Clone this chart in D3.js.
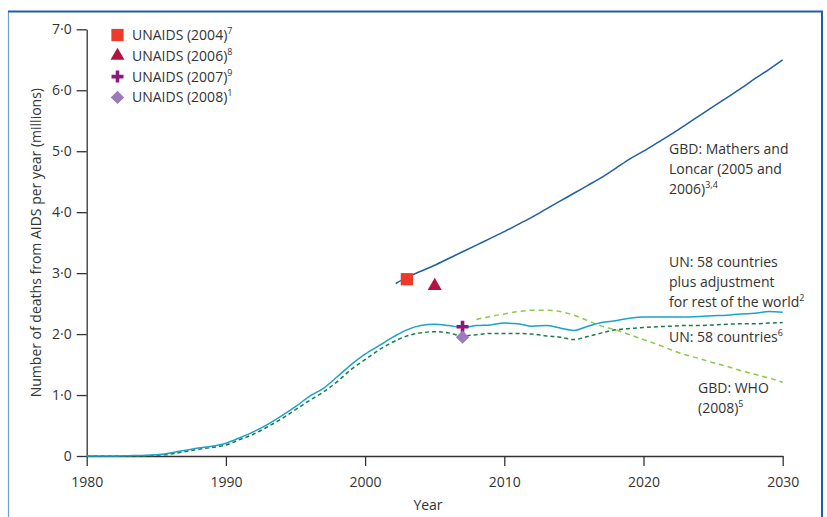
<!DOCTYPE html>
<html>
<head>
<meta charset="utf-8">
<script src="https://cdn.jsdelivr.net/npm/d3@7"></script>
<style>
  html, body { margin: 0; padding: 0; background: #fff; }
  svg { display: block; font-family: "Open Sans", "DejaVu Sans", sans-serif; }
</style>
</head>
<body>
<svg id="chart" width="827" height="517"></svg>
<script>
// Annual AIDS deaths (millions), projections to 2030
const years = d3.range(1980, 2031);

// UN: 58 countries plus adjustment for rest of the world
const unAdjusted = [0.00, 0.00, 0.00, 0.005, 0.01, 0.02, 0.05, 0.09, 0.13, 0.16,
  0.21, 0.30, 0.40, 0.52, 0.66, 0.81, 0.98, 1.11, 1.30, 1.50,
  1.67, 1.81, 1.95, 2.07, 2.14, 2.16, 2.14, 2.11, 2.14, 2.15,
  2.18, 2.17, 2.13, 2.14, 2.10, 2.06, 2.13, 2.19, 2.22, 2.26,
  2.28, 2.28, 2.28, 2.28, 2.29, 2.30, 2.31, 2.33, 2.34, 2.37, 2.36];

// UN: 58 countries
const un58 = [0.00, 0.00, 0.00, 0.00, 0.00, 0.01, 0.03, 0.07, 0.11, 0.14,
  0.18, 0.27, 0.36, 0.48, 0.61, 0.76, 0.91, 1.05, 1.22, 1.42,
  1.58, 1.74, 1.87, 1.97, 2.02, 2.04, 2.02, 1.97, 1.99, 2.01,
  2.01, 2.01, 2.00, 1.97, 1.95, 1.91, 1.96, 2.02, 2.07, 2.09,
  2.11, 2.12, 2.13, 2.14, 2.14, 2.15, 2.16, 2.17, 2.17, 2.18, 2.19];

// GBD: Mathers and Loncar (2005 and 2006)
const mathersYears = [2002.2, 2003, 2004, 2005, 2006, 2007, 2008, 2009, 2010, 2011,
  2012, 2013, 2014, 2015, 2016, 2017, 2018, 2019, 2020, 2021,
  2022, 2023, 2024, 2025, 2026, 2027, 2028, 2029, 2030];
const mathers = [2.83, 2.93, 3.03, 3.13, 3.24, 3.35, 3.46, 3.57, 3.68, 3.80,
  3.92, 4.05, 4.18, 4.31, 4.44, 4.57, 4.72, 4.87, 5.00, 5.14,
  5.28, 5.43, 5.58, 5.73, 5.88, 6.03, 6.19, 6.34, 6.50];

// GBD: WHO (2008)
const whoYears = d3.range(2008, 2031);
const who = [2.24, 2.29, 2.33, 2.37, 2.39, 2.39, 2.37, 2.31, 2.22, 2.13,
  2.07, 1.99, 1.91, 1.83, 1.74, 1.66, 1.60, 1.53, 1.47, 1.40,
  1.34, 1.28, 1.21];

// UNAIDS point estimates
const unaidsLabels = ["UNAIDS (2004)", "UNAIDS (2006)", "UNAIDS (2007)", "UNAIDS (2008)"];
const unaidsRefs = ["7", "8", "9", "1"];
const unaidsYears = [2003, 2005, 2007, 2007];
const unaidsValues = [2.90, 2.79, 2.12, 1.95];

const xTicks = [1980, 1990, 2000, 2010, 2020, 2030];
const yTicks = [0, 1, 2, 3, 4, 5, 6, 7];

const svg = d3.select("#chart");
const ink = "#333333";

// Frame
svg.append("line").attr("x1", 8.5).attr("x2", 8.5).attr("y1", 11).attr("y2", 517)
  .attr("stroke", "#6f9ed3").attr("stroke-width", 1.2);
svg.append("line").attr("x1", 8).attr("x2", 823).attr("y1", 11.5).attr("y2", 11.5)
  .attr("stroke", "#1f5ea8").attr("stroke-width", 2);
svg.append("line").attr("x1", 822).attr("x2", 822).attr("y1", 11).attr("y2", 517)
  .attr("stroke", "#1f5ea8").attr("stroke-width", 2);

const x = d3.scaleLinear().domain([1980, 2030]).range([86.7, 782.7]);
const y = d3.scaleLinear().domain([0, 7]).range([456, 29.3]);

// Axes
const xAxis = d3.axisBottom(x).tickValues(xTicks).tickFormat(d3.format("d"))
  .tickSize(10).tickPadding(11).tickSizeOuter(0);
const yAxis = d3.axisLeft(y).tickValues(yTicks)
  .tickFormat(d => d === 0 ? "0" : d.toFixed(1).replace(".", "\u00b7"))
  .tickSize(10).tickPadding(5).tickSizeOuter(0);

const gx = svg.append("g").attr("transform", `translate(0,${y(0)})`).call(xAxis);
const gy = svg.append("g").attr("transform", `translate(${x(1980)},0)`).call(yAxis);
[gx, gy].forEach(g => {
  g.select(".domain").attr("stroke", ink).attr("stroke-width", 1.3);
  g.selectAll(".tick line").attr("stroke", ink).attr("stroke-width", 1.3);
  g.selectAll(".tick text").attr("fill", ink).attr("font-size", 14)
    .attr("font-family", "'Open Sans', sans-serif");
});

svg.append("text").attr("x", 428).attr("y", 510).attr("text-anchor", "middle")
  .attr("font-size", 14).attr("fill", ink).text("Year");
svg.append("text")
  .attr("transform", `translate(41,${(y(0) + y(7)) / 2}) rotate(-90)`)
  .attr("text-anchor", "middle").attr("font-size", 14).attr("fill", ink)
  .text("Number of deaths from AIDS per year (millions)");

// Lines
const line = d3.line().x(d => x(d[0])).y(d => y(d[1])).curve(d3.curveMonotoneX);
const zip = (xs, vs) => xs.map((v, i) => [v, vs[i]]);

svg.append("path").datum(zip(whoYears, who)).attr("d", line)
  .attr("fill", "none").attr("stroke", "#8cc84b").attr("stroke-width", 1.5)
  .attr("stroke-dasharray", "5,4");
svg.append("path").datum(zip(years, un58)).attr("d", line)
  .attr("fill", "none").attr("stroke", "#1d7a4c").attr("stroke-width", 1.5)
  .attr("stroke-dasharray", "4,3");
svg.append("path").datum(zip(years, unAdjusted)).attr("d", line)
  .attr("fill", "none").attr("stroke", "#19a4c9").attr("stroke-width", 1.5);
svg.append("path").datum(zip(mathersYears, mathers)).attr("d", line)
  .attr("fill", "none").attr("stroke", "#1f5ea8").attr("stroke-width", 1.5);

// Marker styles
const markerStyles = [
  { type: "square", fill: "#ee3a2b" },
  { type: "triangle", fill: "#b3143f" },
  { type: "plus", fill: "#8c1a7c" },
  { type: "diamond", fill: "#9b7cba" }
];
function drawMarker(g, style) {
  if (style.type === "square") {
    g.append("path").attr("d", d3.symbol(d3.symbolSquare, 150)()).attr("fill", style.fill);
  } else if (style.type === "triangle") {
    g.append("path").attr("d", d3.symbol(d3.symbolTriangle, 85)()).attr("fill", style.fill);
  } else if (style.type === "plus") {
    g.append("path").attr("d", "M-6,0H6M0,-6V6").attr("stroke", style.fill)
      .attr("stroke-width", 3.6).attr("fill", "none");
  } else {
    g.append("path").attr("d", d3.symbol(d3.symbolSquare, 90)())
      .attr("transform", "rotate(45)").attr("fill", style.fill);
  }
}

unaidsYears.forEach((yr, i) => {
  const g = svg.append("g").attr("transform", `translate(${x(yr)},${y(unaidsValues[i])})`);
  drawMarker(g, markerStyles[i]);
});

// Legend
const legend = svg.append("g");
unaidsLabels.forEach((lab, i) => {
  const cy = 35 + i * 20.8;
  const g = legend.append("g").attr("transform", `translate(117.5,${cy})`);
  drawMarker(g, markerStyles[i]);
  const t = legend.append("text").attr("x", 132).attr("y", cy + 5)
    .attr("font-size", 14).attr("fill", ink).text(lab);
  t.append("tspan").attr("font-size", 9).attr("dy", -6).text(unaidsRefs[i]);
});

// Line annotations
function annotate(xp, yp, lines, sup) {
  lines.forEach((s, i) => {
    const t = svg.append("text").attr("x", xp).attr("y", yp + i * 20)
      .attr("font-size", 14).attr("fill", ink).text(s);
    if (i === lines.length - 1 && sup) {
      t.append("tspan").attr("font-size", 9).attr("dy", -6).text(sup);
    }
  });
}
annotate(669, 154, ["GBD: Mathers and", "Loncar (2005 and", "2006)"], "3,4");
annotate(669, 267, ["UN: 58 countries", "plus adjustment", "for rest of the world"], "2");
annotate(669, 342, ["UN: 58 countries"], "6");
annotate(698, 393, ["GBD: WHO", "(2008)"], "5");
</script>
</body>
</html>
